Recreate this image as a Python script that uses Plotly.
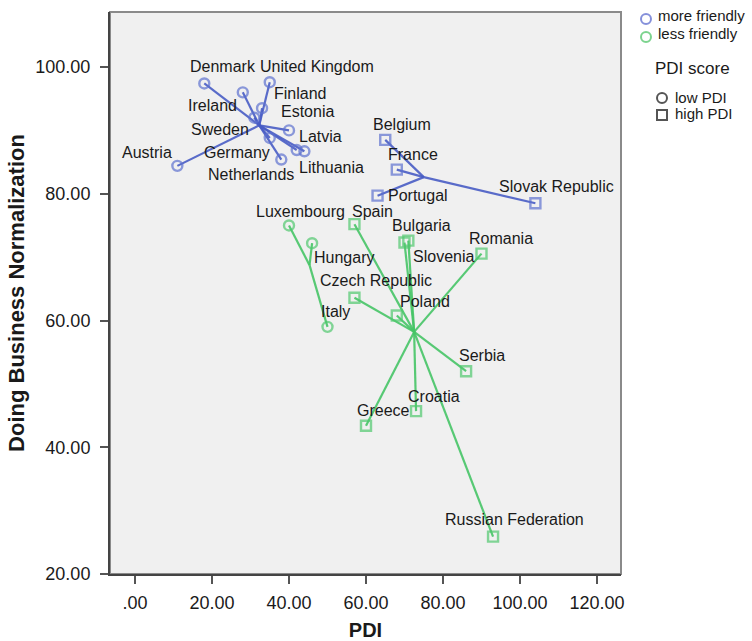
import numpy as np
import plotly.graph_objects as go

# Country groups: friendliness (more / less) x PDI level (low / high)
more_low_names = ["Denmark", "United Kingdom", "Ireland", "Finland", "Estonia", "Sweden",
                  "Latvia", "Germany", "Netherlands", "Lithuania", "Austria"]
more_low_pdi = [18, 35, 28, 33, 40, 31, 44, 35, 38, 42, 11]
more_low_dbn = [97.4, 97.6, 96.0, 93.5, 90.0, 92.0, 86.7, 88.8, 85.4, 86.9, 84.4]

more_high_names = ["Belgium", "France", "Portugal", "Slovak Republic"]
more_high_pdi = [65, 68, 63, 104]
more_high_dbn = [88.5, 83.8, 79.7, 78.5]

less_low_names = ["Luxembourg", "Hungary", "Italy"]
less_low_pdi = [40, 46, 50]
less_low_dbn = [75.0, 72.2, 59.0]

less_high_names = ["Spain", "Bulgaria", "Slovenia", "Romania", "Czech Republic", "Poland",
                   "Serbia", "Croatia", "Greece", "Russian Federation"]
less_high_pdi = [57, 70, 71, 90, 57, 68, 86, 73, 60, 93]
less_high_dbn = [75.2, 72.3, 72.6, 70.55, 63.6, 60.8, 52.0, 45.7, 43.4, 25.9]

x_ticks = [0, 20, 40, 60, 80, 100, 120]
x_ticktext = [".00", "20.00", "40.00", "60.00", "80.00", "100.00", "120.00"]
y_ticks = [20, 40, 60, 80, 100]
y_ticktext = ["20.00", "40.00", "60.00", "80.00", "100.00"]

# label offsets in pixels (right, down) relative to each point
label_offsets = {
    "Denmark": (19, -17), "United Kingdom": (47, -16), "Ireland": (-30, 13),
    "Finland": (38, -15), "Estonia": (18, -19), "Sweden": (-34, 12),
    "Latvia": (16, -15), "Germany": (-33, 15), "Netherlands": (-30, 15),
    "Lithuania": (35, 17), "Austria": (-30, -13),
    "Belgium": (17, -15), "France": (16, -15), "Portugal": (40, 0),
    "Slovak Republic": (21, -17),
    "Luxembourg": (11, -14), "Hungary": (32, 14), "Italy": (8, -15),
    "Spain": (18, -13), "Bulgaria": (17, -17), "Slovenia": (35, 16),
    "Romania": (19, -15), "Czech Republic": (22, -17), "Poland": (28, -14),
    "Serbia": (16, -16), "Croatia": (18, -15), "Greece": (17, -15),
    "Russian Federation": (21, -17),
}

BLUE_LINE = "rgba(72,92,196,0.9)"
BLUE_MARK = "rgba(92,112,206,0.7)"
GREEN_LINE = "rgba(70,196,102,0.9)"
GREEN_MARK = "rgba(80,200,110,0.7)"
FONT = "Liberation Sans, Arial, sans-serif"

fig = go.Figure()

groups = [
    (more_low_names, more_low_pdi, more_low_dbn, "circle-open", BLUE_LINE, BLUE_MARK),
    (more_high_names, more_high_pdi, more_high_dbn, "square-open", BLUE_LINE, BLUE_MARK),
    (less_low_names, less_low_pdi, less_low_dbn, "circle-open", GREEN_LINE, GREEN_MARK),
    (less_high_names, less_high_pdi, less_high_dbn, "square-open", GREEN_LINE, GREEN_MARK),
]

# spokes from each group's centroid to its members
for names, xs, ys, sym, lc, mc in groups:
    cx, cy = float(np.mean(xs)), float(np.mean(ys))
    sx, sy = [], []
    for x, y in zip(xs, ys):
        sx += [cx, x, None]
        sy += [cy, y, None]
    fig.add_trace(go.Scatter(x=sx, y=sy, mode="lines",
                             line=dict(color=lc, width=2.2), hoverinfo="skip",
                             showlegend=False))

for names, xs, ys, sym, lc, mc in groups:
    fig.add_trace(go.Scatter(x=xs, y=ys, mode="markers", text=names,
                             marker=dict(symbol=sym, size=10, color=mc,
                                         line=dict(width=2.4, color=mc)),
                             showlegend=False))
    for n, x, y in zip(names, xs, ys):
        dx, dy = label_offsets[n]
        fig.add_annotation(x=x, y=y, text=n, showarrow=False, xshift=dx, yshift=-dy,
                           xanchor="center", yanchor="middle",
                           font=dict(family=FONT, size=16, color="#1a1a1a"))

# plot area geometry (pixels)
W, H = 752, 641
L, R, T, B = 110, 621, 12, 574


def px2paper(px, py):
    return (px - L) / (R - L), (B - py) / (B - T)


def legend_marker(px, py, kind, color):
    xp, yp = px2paper(px, py)
    fig.add_shape(type="circle" if kind == "circle" else "rect",
                  xref="paper", yref="paper", xsizemode="pixel", ysizemode="pixel",
                  xanchor=xp, yanchor=yp, x0=-5, x1=5, y0=-5, y1=5,
                  line=dict(color=color, width=2), fillcolor="rgba(0,0,0,0)")


def legend_text(px, py, text, size=15):
    xp, yp = px2paper(px, py)
    fig.add_annotation(xref="paper", yref="paper", x=xp, y=yp, text=text,
                       showarrow=False, xanchor="left", yanchor="middle",
                       font=dict(family=FONT, size=size, color="#1a1a1a"))


legend_marker(646, 19, "circle", "rgba(120,132,214,0.9)")
legend_text(656, 16, "more friendly")
legend_marker(646, 37, "circle", "rgba(110,206,130,0.9)")
legend_text(656, 34, "less friendly")
legend_text(653, 68, "PDI score", 17)
legend_marker(662, 98, "circle", "#555555")
legend_text(673, 97, "low PDI")
legend_marker(662, 115, "rect", "#555555")
legend_text(673, 114, "high PDI")

# light frame on the top and right of the plotting area
fig.add_shape(type="rect", xref="paper", yref="paper", x0=0, x1=1, y0=0, y1=1,
              line=dict(color="#8a8a8a", width=2), fillcolor="rgba(0,0,0,0)",
              layer="below")

px_per_x = 3.85
x0 = -(135 - L) / px_per_x
x1 = x0 + (R - L) / px_per_x
y_lo, y_hi = 20, 100 + (67 - T) / ((B - 67) / 80)

axis_common = dict(showgrid=False, zeroline=False, showline=True, linecolor="#444",
                   linewidth=2, mirror=False, ticks="outside", ticklen=8, tickwidth=2,
                   tickcolor="#555", tickfont=dict(size=18, color="#1a1a1a"),
                   automargin=False)

fig.update_layout(
    width=W, height=H,
    margin=dict(l=L, r=W - R, t=T, b=H - B, autoexpand=False),
    plot_bgcolor="#f0f0f0", paper_bgcolor="white",
    font=dict(family=FONT, color="#1a1a1a"),
    showlegend=False,
    xaxis=dict(range=[x0, x1], tickvals=x_ticks, ticktext=x_ticktext,
               ticklabelstandoff=3,
               title=dict(text="<b>PDI</b>", font=dict(size=20), standoff=11),
               **axis_common),
    yaxis=dict(range=[y_lo, y_hi], tickvals=y_ticks, ticktext=y_ticktext,
               ticklabelstandoff=6,
               title=dict(text="<b>Doing Business Normalization</b>",
                          font=dict(size=22), standoff=5),
               **axis_common),
)

fig.write_html("out.html")
